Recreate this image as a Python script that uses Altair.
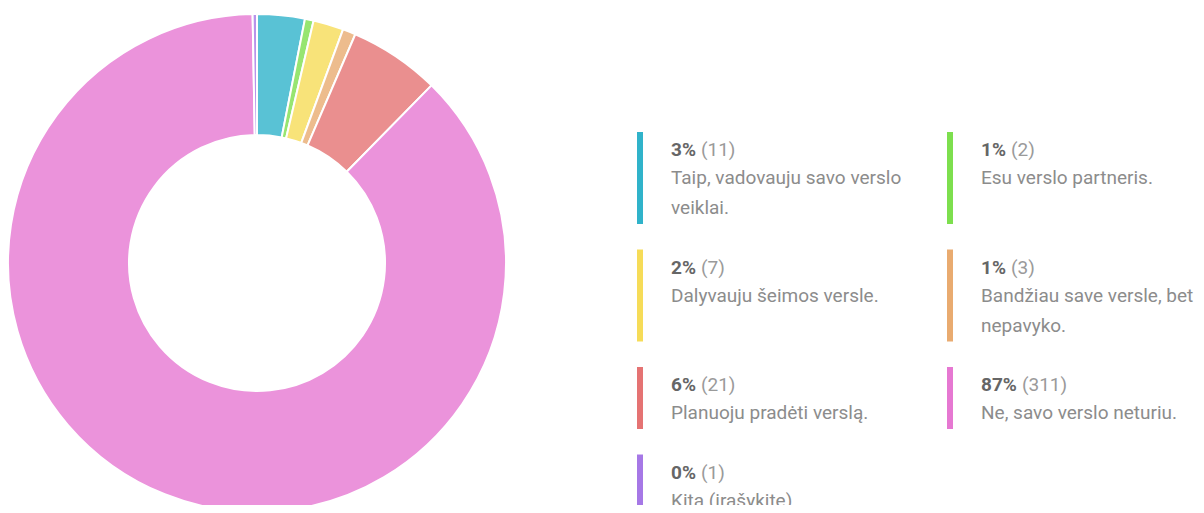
import altair as alt
import pandas as pd

# ---- data ----
labels = [
    "Taip, vadovauju savo verslo\nveiklai.",
    "Esu verslo partneris.",
    "Dalyvauju šeimos versle.",
    "Bandžiau save versle, bet\nnepavyko.",
    "Planuoju pradėti verslą.",
    "Ne, savo verslo neturiu.",
    "Kita (įrašykite)",
]
counts = [11, 2, 7, 3, 21, 311, 1]
percents = ["3%", "1%", "2%", "1%", "6%", "87%", "0%"]
colors = ["#30b3ca", "#7ddf4e", "#f6dc58", "#e9ab70", "#e57373", "#e678d2", "#a678e6"]

# ---- layout (chart pixel coordinates) ----
W, H = 1188, 497
CX, CY, R_OUT, R_IN = 249, 255, 249, 128
COL_BAR_X = [629, 939]
COL_TXT_X = [663, 973]
ROW0_TOP = 124
ROW_GAP = 25.5
LINE_H = 30
FS = 19

n = len(labels)
nlines = [lab.count("\n") + 1 for lab in labels]
rows = (n + 1) // 2
row_lines = [max(nlines[i] for i in range(r * 2, min(r * 2 + 2, n))) for r in range(rows)]
row_h = [LINE_H * k + 32 for k in row_lines]
row_top = []
t = ROW0_TOP
for r in range(rows):
    row_top.append(t)
    t += row_h[r] + ROW_GAP

recs = []
for i in range(n):
    r, c = divmod(i, 2)
    top = row_top[r]
    recs.append(
        dict(
            order=i,
            label=labels[i],
            count=counts[i],
            pct=percents[i],
            cnt=f"({counts[i]})",
            color=colors[i],
            bx=COL_BAR_X[c],
            bx2=COL_BAR_X[c] + 6,
            by=top,
            by2=top + row_h[r],
            tx=COL_TXT_X[c],
            cx=COL_TXT_X[c] + 30 + 11 * (len(percents[i]) - 2),
            py=top + 24,
            ly=top + 52,
        )
    )
df = pd.DataFrame(recs)

color_scale = alt.Scale(domain=labels, range=colors)

donut = (
    alt.Chart(df)
    .mark_arc(outerRadius=R_OUT, innerRadius=R_IN, stroke="white", strokeWidth=2, fillOpacity=0.8)
    .encode(
        theta=alt.Theta("count:Q", stack=True),
        order=alt.Order("order:Q"),
        color=alt.Color("label:N", scale=color_scale, legend=None),
        x=alt.value(CX),
        y=alt.value(CY),
    )
)

bars = (
    alt.Chart(df)
    .mark_rect()
    .encode(
        x=alt.X("bx:Q", scale=None, axis=None),
        x2="bx2:Q",
        y=alt.Y("by:Q", scale=None, axis=None),
        y2="by2:Q",
        color=alt.Color("label:N", scale=color_scale, legend=None),
    )
)

FONT = "Roboto"
pct_text = (
    alt.Chart(df)
    .mark_text(align="left", baseline="alphabetic", font=FONT, fontSize=FS, fontWeight="bold", color="#666666")
    .encode(x=alt.X("tx:Q", scale=None, axis=None), y=alt.Y("py:Q", scale=None, axis=None), text="pct:N")
)
cnt_text = (
    alt.Chart(df)
    .mark_text(align="left", baseline="alphabetic", font=FONT, fontSize=FS, color="#9a9a9a")
    .encode(x=alt.X("cx:Q", scale=None, axis=None), y=alt.Y("py:Q", scale=None, axis=None), text="cnt:N")
)
lab_text = (
    alt.Chart(df)
    .mark_text(align="left", baseline="alphabetic", font=FONT, fontSize=FS, color="#8c8c8c",
               lineBreak="\n", lineHeight=LINE_H)
    .encode(x=alt.X("tx:Q", scale=None, axis=None), y=alt.Y("ly:Q", scale=None, axis=None), text="label:N")
)

chart = (
    alt.layer(donut, bars, pct_text, cnt_text, lab_text)
    .properties(width=W, height=H, autosize=alt.AutoSizeParams(type="none"), padding=0)
    .configure_view(stroke=None)
)

chart.save("out.html", embed_options={"renderer": "svg", "actions": False})
